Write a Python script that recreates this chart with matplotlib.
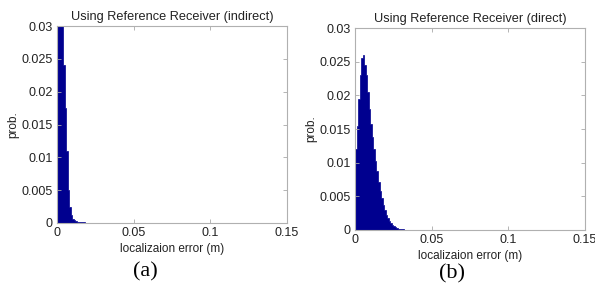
import numpy as np
from matplotlib import pyplot as plt

# histogram bins (width in m) and probabilities
bin_w = 0.001
indirect_prob = [0.040, 0.044, 0.040, 0.032, 0.024, 0.0175, 0.011, 0.005, 0.0024,
                 0.0012, 0.0006, 0.0004, 0.0003, 0.0002, 0.00015, 0.00012, 0.0001,
                 0.00008, 0.00006, 0.00005, 0.00004, 0.00004, 0.00003, 0.00003,
                 0.00002, 0.00002, 0.00002, 0.00002, 0.00001, 0.00001, 0.00001,
                 0.00001, 0.00001, 0.00001, 0.00001, 0.00001, 0.00001, 0.00001,
                 0.00001, 0.00001, 0.00001, 0.00001, 0.00001, 0.00001, 0.00001,
                 0.00001, 0.00001, 0.00001, 0.00001, 0.00001]
direct_prob = [0.012, 0.0155, 0.0195, 0.023, 0.0255, 0.026, 0.0245, 0.023, 0.0205,
               0.018, 0.0158, 0.0138, 0.012, 0.0102, 0.0087, 0.0072, 0.0058, 0.0047,
               0.0037, 0.003, 0.0023, 0.0018, 0.0014, 0.0011, 0.0008, 0.0006, 0.00045,
               0.0003, 0.0002, 0.00012, 0.0001, 0.00008, 0.00006, 0.00005, 0.00004,
               0.00004, 0.00003, 0.00003, 0.00003, 0.00002, 0.00002, 0.00002,
               0.00002, 0.00002, 0.00002, 0.00002, 0.00002, 0.00002]

titles = ['Using Reference Receiver (indirect)', 'Using Reference Receiver (direct)']
captions = ['(a)', '(b)']
xticks = [0, 0.05, 0.1, 0.15]
xtick_labels = ['0', '0.05', '0.1', '0.15']
yticks = [0, 0.005, 0.01, 0.015, 0.02, 0.025, 0.03]
ytick_labels = ['0', '0.005', '0.01', '0.015', '0.02', '0.025', '0.03']

plt.rcParams['font.family'] = ['Liberation Sans', 'DejaVu Sans']
fig = plt.figure(figsize=(5.95, 2.94), dpi=100)
ax_a = fig.add_axes([0.0958, 0.2415, 0.3866, 0.670])
ax_b = fig.add_axes([0.5966, 0.2177, 0.3866, 0.687])

navy = '#00008f'
for ax, probs, title in zip([ax_a, ax_b], [indirect_prob, direct_prob], titles):
    edges = np.arange(len(probs) + 1) * bin_w
    ax.stairs(probs, edges, fill=True, facecolor=navy, edgecolor=navy, linewidth=0.5)
    ax.set_xlim(0, 0.15)
    ax.set_ylim(0, 0.03)
    ax.set_xticks(xticks)
    ax.set_xticklabels(xtick_labels)
    ax.set_yticks(yticks)
    ax.set_yticklabels(ytick_labels)
    ax.tick_params(direction='in', top=True, right=True, length=3, width=0.6,
                   labelsize=9, colors='#a8a8a8', labelcolor='#222222', pad=3)
    for s in ax.spines.values():
        s.set_color('#b0b0b0')
        s.set_linewidth(0.8)
    ax.set_title(title, fontsize=9.2, color='#222222', pad=4)
    ax.set_xlabel('localizaion error (m)', fontsize=8.5, color='#222222', labelpad=3)
    ax.set_ylabel('prob.', fontsize=8.5, color='#222222', labelpad=2)

fig.text(0.245, 0.075, captions[0], fontsize=16, family='Liberation Serif',
         ha='center', va='center')
fig.text(0.760, 0.07, captions[1], fontsize=16, family='Liberation Serif',
         ha='center', va='center')

plt.savefig('out.png', dpi=100)
